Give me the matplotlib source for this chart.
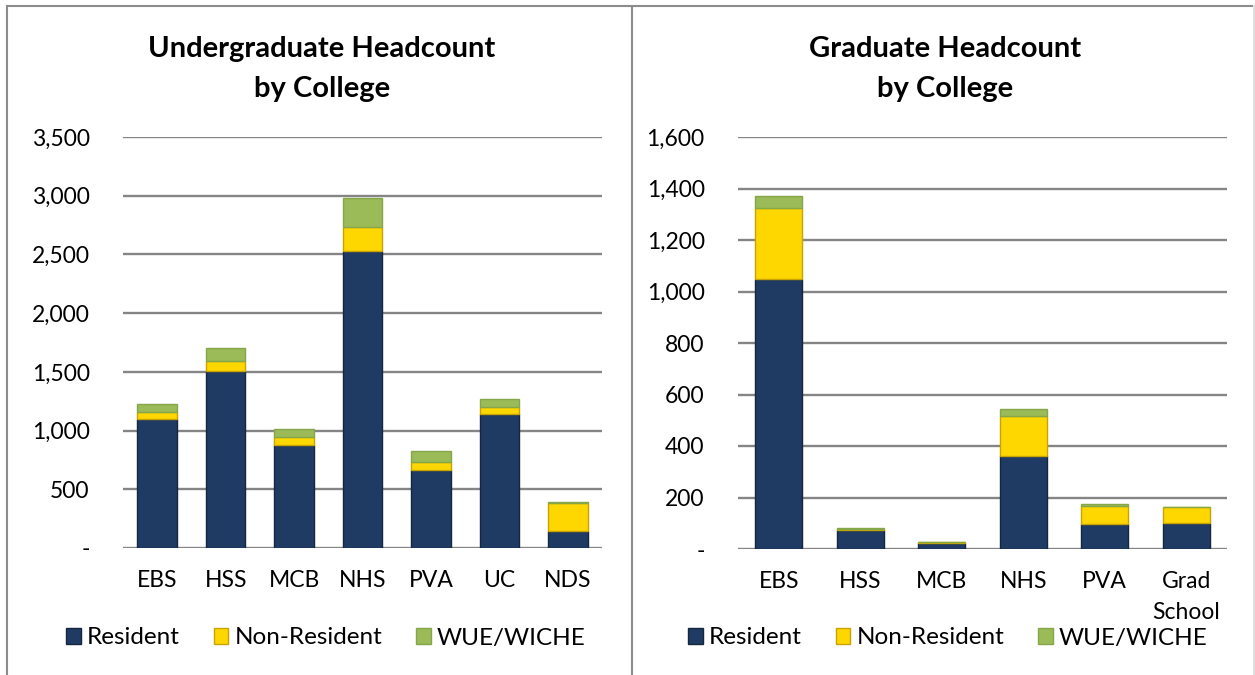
import matplotlib.pyplot as plt
import numpy as np
from matplotlib.lines import Line2D

plt.rcParams['font.family'] = ['Lato', 'DejaVu Sans']

# datos - pregrado
ug_colleges = ['EBS', 'HSS', 'MCB', 'NHS', 'PVA', 'UC', 'NDS']
ug_resident = [1100, 1505, 875, 2525, 665, 1140, 143]
ug_nonres = [60, 90, 70, 210, 70, 60, 240]
ug_wue = [65, 105, 65, 245, 90, 70, 8]

# datos - posgrado
grad_colleges = ['EBS', 'HSS', 'MCB', 'NHS', 'PVA', 'Grad\nSchool']
grad_resident = [1048, 72, 23, 362, 96, 102]
grad_nonres = [278, 6, 3, 155, 71, 60]
grad_wue = [44, 2, 0, 27, 6, 1]

series_names = ['Resident', 'Non-Resident', 'WUE/WICHE']
fill = ['#1F3B63', '#FFD700', '#9BBB59']
edge = ['#14273F', '#C9A400', '#86A64A']

W, H = 1255, 675
fig = plt.figure(figsize=(W / 100, H / 100), dpi=100)


def px_axes(x0, x1, ytop, ybot):
    return fig.add_axes([x0 / W, 1 - ybot / H, (x1 - x0) / W, (ybot - ytop) / H])


def draw(ax, cats, res, nonres, wue, ymax, step, title, tx, lx):
    x = np.arange(len(cats))
    res = np.array(res)
    nonres = np.array(nonres)
    wue = np.array(wue)
    bars = []
    bottom = np.zeros(len(cats))
    for vals, fc, ec in zip([res, nonres, wue], fill, edge):
        b = ax.bar(x, vals, 0.58, bottom=bottom, color=fc, edgecolor=ec, linewidth=1.0, zorder=3)
        bars.append(b)
        bottom = bottom + vals
    ax.set_xlim(-0.5, len(cats) - 0.5)
    ax.set_ylim(0, ymax)
    ticks = np.arange(0, ymax + 1, step)
    ax.set_yticks(ticks)
    ax.set_yticklabels(['-' if t == 0 else f'{t:,}' for t in ticks])
    ax.set_xticks(x)
    ax.set_xticklabels(cats, linespacing=1.55)
    for t in ticks:
        ax.axhline(t, color='#858585', lw=1.7, zorder=1)
    for s in ax.spines.values():
        s.set_visible(False)
    ax.tick_params(axis='y', length=0, pad=24, labelsize=16.5)
    ax.tick_params(axis='x', length=0, pad=16, labelsize=16.5)
    fig.text(tx / W, 1 - 69 / H, title, ha='center', va='center', fontsize=21,
             fontweight='bold', linespacing=1.68)
    fig.legend(bars, series_names, loc='center', bbox_to_anchor=(lx / W, 1 - 638 / H),
               ncol=3, frameon=False, fontsize=17.5, handlelength=0.6, handleheight=0.6,
               handletextpad=0.25, columnspacing=1.4)


ax1 = px_axes(123, 602, 137, 548)
draw(ax1, ug_colleges, ug_resident, ug_nonres, ug_wue, 3500, 500,
     'Undergraduate Headcount\nby College', 322, 326)

ax2 = px_axes(738, 1227, 137, 549)
draw(ax2, grad_colleges, grad_resident, grad_nonres, grad_wue, 1600, 200,
     'Graduate Headcount\nby College', 945, 948)

# bordes de los graficos
for xs, ys, c in [([7, 1255], [6, 6], '#8C8C8C'), ([7, 7], [6, 675], '#8C8C8C'),
                  ([632, 632], [6, 675], '#8C8C8C'), ([1254, 1254], [6, 675], '#E0E0E0')]:
    fig.add_artist(Line2D([v / W for v in xs], [1 - v / H for v in ys], color=c, lw=1.5))

fig.savefig('out.png', dpi=100)
